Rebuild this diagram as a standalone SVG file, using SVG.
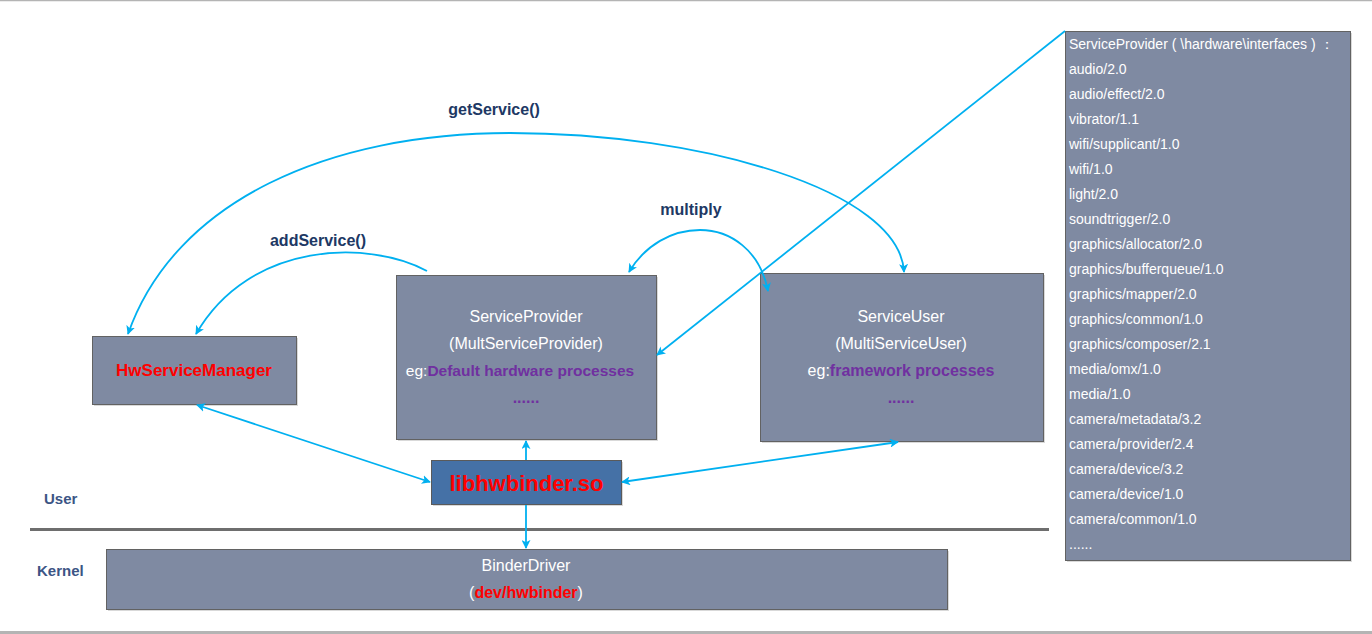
<svg xmlns="http://www.w3.org/2000/svg" width="1372" height="634" viewBox="0 0 1372 634">
<defs>
<marker id="ah" viewBox="0 0 10 10" refX="9" refY="5" markerWidth="9" markerHeight="9" markerUnits="userSpaceOnUse" orient="auto-start-reverse">
<path d="M0,0 L10,5 L0,10 L2.5,5 z" fill="#00b0f0"/>
</marker>
</defs>
<style>
.box{fill:#7f8aa2;stroke:#626262;stroke-width:1}
.shadow{fill:#d9d9d9}
.wt{fill:#ffffff;font-family:"Liberation Sans",Arial,sans-serif;font-size:16px;text-anchor:middle}
.pp{fill:#7030a0;font-weight:bold}
.red{fill:#ff0000;font-weight:bold}
.lbl{fill:#203864;font-family:"Liberation Sans",Arial,sans-serif;font-size:16px;font-weight:bold;text-anchor:middle}
.layer{fill:#3c5585;font-family:"Liberation Sans",Arial,sans-serif;font-size:15px;font-weight:bold}
.list{fill:#ffffff;font-family:"Liberation Sans",Arial,sans-serif;font-size:14px}
.c{fill:none;stroke:#00b0f0;stroke-width:1.8}
</style>
<rect width="1372" height="634" fill="#ffffff"/>
<line x1="0" y1="0.5" x2="1372" y2="0.5" stroke="#b4b4b4" stroke-width="1.5"/>
<line x1="0" y1="632.5" x2="1372" y2="632.5" stroke="#b4b4b4" stroke-width="3"/>
<line x1="30" y1="529.5" x2="1049" y2="529.5" stroke="#6e6e6e" stroke-width="3"/>

<text class="layer" x="44" y="504">User</text>
<text class="layer" x="37" y="576">Kernel</text>

<g id="hwservicemanager">
<rect class="shadow" x="94" y="338" width="204" height="68"/>
<rect class="box" x="92.5" y="336.5" width="204" height="68"/>
<text class="wt red" x="194" y="376" style="font-size:17px">HwServiceManager</text>
</g>

<g id="serviceprovider">
<rect class="shadow" x="398" y="277" width="260" height="164"/>
<rect class="box" x="396.5" y="275.5" width="260" height="164"/>
<text class="wt" x="526" y="322">ServiceProvider</text>
<text class="wt" x="526" y="349">(MultServiceProvider)</text>
<text class="wt" x="520" y="376" style="font-size:15.5px">eg:<tspan class="pp">Default hardware processes</tspan></text>
<text class="wt pp" x="526" y="403">......</text>
</g>

<g id="serviceuser">
<rect class="shadow" x="762" y="275" width="283" height="168"/>
<rect class="box" x="760.5" y="273.5" width="283" height="168"/>
<text class="wt" x="901" y="322">ServiceUser</text>
<text class="wt" x="901" y="349">(MultiServiceUser)</text>
<text class="wt" x="901" y="376">eg:<tspan class="pp">framework processes</tspan></text>
<text class="wt pp" x="901" y="403">......</text>
</g>

<g id="libhwbinder">
<rect class="shadow" x="433" y="462" width="190" height="44"/>
<rect x="431.5" y="460.5" width="190" height="44" fill="#4571a6" stroke="#5a5a5a" stroke-width="1"/>
<text class="wt red" x="526.5" y="491" style="font-size:22px">libhwbinder.so</text>
</g>

<g id="binderdriver">
<rect class="shadow" x="108" y="551" width="841" height="60"/>
<rect class="box" x="106.5" y="549.5" width="841" height="60"/>
<text class="wt" x="526" y="571">BinderDriver</text>
<text class="wt" x="526" y="598">(<tspan class="red">dev/hwbinder</tspan>)</text>
</g>

<g id="interfaces">
<rect class="shadow" x="1067" y="33" width="285" height="529"/>
<rect class="box" x="1065.5" y="31.5" width="285" height="529"/>
<text class="list" x="1069">
<tspan x="1069" y="49">ServiceProvider ( \hardware\interfaces ) ：</tspan>
<tspan x="1069" y="74">audio/2.0</tspan>
<tspan x="1069" y="99">audio/effect/2.0</tspan>
<tspan x="1069" y="124">vibrator/1.1</tspan>
<tspan x="1069" y="149">wifi/supplicant/1.0</tspan>
<tspan x="1069" y="174">wifi/1.0</tspan>
<tspan x="1069" y="199">light/2.0</tspan>
<tspan x="1069" y="224">soundtrigger/2.0</tspan>
<tspan x="1069" y="249">graphics/allocator/2.0</tspan>
<tspan x="1069" y="274">graphics/bufferqueue/1.0</tspan>
<tspan x="1069" y="299">graphics/mapper/2.0</tspan>
<tspan x="1069" y="324">graphics/common/1.0</tspan>
<tspan x="1069" y="349">graphics/composer/2.1</tspan>
<tspan x="1069" y="374">media/omx/1.0</tspan>
<tspan x="1069" y="399">media/1.0</tspan>
<tspan x="1069" y="424">camera/metadata/3.2</tspan>
<tspan x="1069" y="449">camera/provider/2.4</tspan>
<tspan x="1069" y="474">camera/device/3.2</tspan>
<tspan x="1069" y="499">camera/device/1.0</tspan>
<tspan x="1069" y="524">camera/common/1.0</tspan>
<tspan x="1069" y="549">......</tspan>
</text>
</g>

<g id="connectors">
<path class="c" d="M128,334 C175,200 330,133 510,133 C700,133 900,190 904,272" marker-start="url(#ah)" marker-end="url(#ah)"/>
<path class="c" d="M427,271 C370,240 250,240 196,334" marker-end="url(#ah)"/>
<path class="c" d="M629,272 C645,245 672,230 700,230 C730,230 760,250 768,291" marker-start="url(#ah)" marker-end="url(#ah)"/>
<line class="c" x1="1065" y1="31" x2="657" y2="355" marker-end="url(#ah)"/>
<line class="c" x1="197" y1="405" x2="430" y2="482" marker-start="url(#ah)" marker-end="url(#ah)"/>
<line class="c" x1="526" y1="460" x2="526" y2="441" marker-end="url(#ah)"/>
<line class="c" x1="622" y1="482" x2="898" y2="442" marker-start="url(#ah)" marker-end="url(#ah)"/>
<line class="c" x1="526" y1="505" x2="526" y2="548" marker-end="url(#ah)"/>
<text class="lbl" x="494" y="115">getService()</text>
<text class="lbl" x="318" y="246">addService()</text>
<text class="lbl" x="691" y="215">multiply</text>
</g>
</svg>
